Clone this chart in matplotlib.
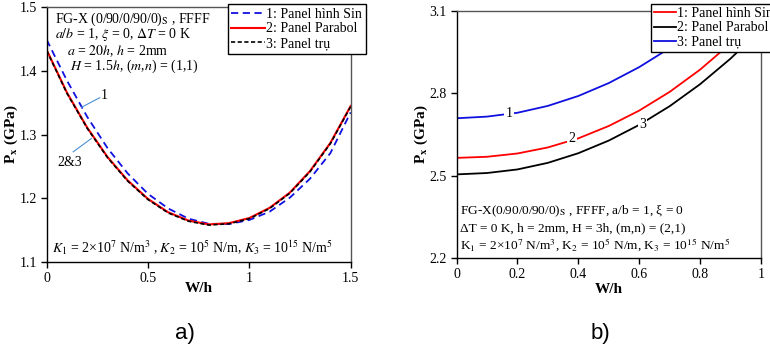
import matplotlib.pyplot as plt

plt.rcParams['font.family'] = ['Liberation Serif', 'DejaVu Serif']
plt.rcParams['mathtext.fontset'] = 'stix'
plt.rcParams['font.size'] = 10

# panel a) : P_x vs W/h
wh_a = [0, 0.1, 0.2, 0.3, 0.4, 0.5, 0.6, 0.7, 0.8, 0.9, 1.0, 1.1, 1.2, 1.3, 1.4, 1.5]
sin_a = [1.449, 1.385, 1.328, 1.279, 1.239, 1.207, 1.184, 1.168, 1.160, 1.1596,
         1.166, 1.179, 1.201, 1.231, 1.271, 1.335]
parabol_a = [1.433, 1.366, 1.311, 1.265, 1.228, 1.199, 1.178, 1.165, 1.159, 1.161,
             1.169, 1.185, 1.209, 1.243, 1.287, 1.345]
tru_a = [1.432, 1.365, 1.310, 1.264, 1.227, 1.198, 1.177, 1.164, 1.158, 1.160,
         1.168, 1.184, 1.208, 1.242, 1.286, 1.344]

# panel b)
wh_b = [0, 0.1, 0.2, 0.3, 0.4, 0.5, 0.6, 0.7, 0.8, 0.9, 1.0]
sin_b = [2.565, 2.569, 2.581, 2.603, 2.636, 2.681, 2.737, 2.805, 2.886, 2.981, 3.091]
parabol_b = [2.505, 2.510, 2.523, 2.547, 2.582, 2.628, 2.685, 2.753, 2.833, 2.926, 3.033]
tru_b = [2.709, 2.715, 2.729, 2.754, 2.790, 2.837, 2.895, 2.964, 3.044, 3.135]

labels = ['1: Panel hình Sin', '2: Panel Parabol', '3: Panel trụ']

fig = plt.figure(figsize=(7.7, 3.47), dpi=100)
ax1 = fig.add_axes([0.0606, 0.245, 0.3948, 0.734])
ax2 = fig.add_axes([0.5929, 0.2556, 0.3955, 0.7136])

# ---- a)
l1, = ax1.plot(wh_a, sin_a, color='#1010e0', lw=1.3, ls=(0, (4, 2.5)))
l2, = ax1.plot(wh_a, parabol_a, color='red', lw=1.5)
l3, = ax1.plot(wh_a, tru_a, color='black', lw=1.2, ls=(0, (2.5, 1.5)))
ax1.set_xlim(0, 1.5)
ax1.set_ylim(1.1, 1.5)
ax1.set_xticks([0, 0.5, 1, 1.5])
ax1.set_xticklabels(['0', '0.5', '1', '1.5'])
ax1.set_yticks([1.1, 1.2, 1.3, 1.4, 1.5])
ax1.set_xlabel('W/h', fontweight='bold', fontsize=11)
ax1.set_ylabel('P$_\\mathbf{x}$ (GPa)', fontweight='bold', fontsize=11)
ax1.xaxis.set_label_coords(0.5, -0.08)
ax1.yaxis.set_label_coords(-0.088, 0.5)

ax1.text(0.027, 0.953, 'FG-X (0/90/0/90/0)$_\\mathrm{S}$ , FFFF', transform=ax1.transAxes, va='center')
ax1.text(0.027, 0.892, '$a/b$ = 1, $\\xi$ = 0, $\\Delta T$ = 0 K', transform=ax1.transAxes, va='center')
ax1.text(0.066, 0.826, '$a$ = $20h$, $h$ = 2mm', transform=ax1.transAxes, va='center')
ax1.text(0.077, 0.767, '$H$ = 1.5$h$, ($m$,$n$) = (1,1)', transform=ax1.transAxes, va='center')
ax1.text(0.016, 0.054, '$K_1$ = 2×10$^7$ N/m$^3$ , $K_2$ = 10$^5$ N/m, $K_3$ = 10$^{15}$ N/m$^5$',
         transform=ax1.transAxes, va='center')

ax1.plot([0.172, 0.262], [1.343, 1.358], color='#4a90d0', lw=0.8)
ax1.text(0.285, 1.362, '1', va='center', ha='center')
ax1.plot([0.131, 0.221], [1.273, 1.294], color='#4a90d0', lw=0.8)
ax1.text(0.115, 1.256, '2&3', va='center', ha='center')

leg1 = ax1.legend([l1, l2, l3], labels, loc='upper left',
                  bbox_to_anchor=(228 / 770, 1 - 4.3 / 347), bbox_transform=fig.transFigure,
                  fancybox=False, edgecolor='black', framealpha=1, borderpad=0.25,
                  labelspacing=0.12, handlelength=2.4, handletextpad=0.1, borderaxespad=0)
leg1.get_frame().set_linewidth(1.0)

# ---- b)
m1, = ax2.plot(wh_b, sin_b, color='red', lw=1.3)
m2, = ax2.plot(wh_b, parabol_b, color='black', lw=1.3)
m3, = ax2.plot(wh_b[:len(tru_b)], tru_b, color='#1010e0', lw=1.3)
ax2.set_xlim(0, 1)
ax2.set_ylim(2.2, 3.1)
ax2.set_xticks([0, 0.2, 0.4, 0.6, 0.8, 1])
ax2.set_xticklabels(['0', '0.2', '0.4', '0.6', '0.8', '1'])
ax2.set_yticks([2.2, 2.5, 2.8, 3.1])
ax2.set_xlabel('W/h', fontweight='bold', fontsize=11)
ax2.set_ylabel('P$_\\mathbf{x}$ (GPa)', fontweight='bold', fontsize=11)
ax2.xaxis.set_label_coords(0.5, -0.1)
ax2.yaxis.set_label_coords(-0.087, 0.5)

for txt, x, y in [('1', 0.173, 2.727), ('2', 0.378, 2.636), ('3', 0.611, 2.688)]:
    ax2.text(x, y, txt, ha='center', va='center',
             bbox=dict(facecolor='white', edgecolor='none', pad=1.0))

ax2.text(0.011, 0.188, 'FG-X(0/90/0/90/0)$_\\mathrm{S}$ , FFFF, a/b = 1, ξ = 0',
         transform=ax2.transAxes, va='center', fontsize=9.6)
ax2.text(0.011, 0.121, 'ΔT = 0 K, h = 2mm, H = 3h, (m,n) = (2,1)',
         transform=ax2.transAxes, va='center', fontsize=9.6)
ax2.text(0.011, 0.054, 'K$_1$ = 2×10$^7$ N/m$^3$, K$_2$ = 10$^5$ N/m, K$_3$ = 10$^{15}$ N/m$^5$',
         transform=ax2.transAxes, va='center', fontsize=9.6)

leg2 = ax2.legend([m1, m2, m3], labels, loc='upper left',
                  bbox_to_anchor=(650.7 / 770, 1 - 4.3 / 347), bbox_transform=fig.transFigure,
                  fancybox=False, edgecolor='black', framealpha=1, borderpad=0.22,
                  labelspacing=0.08, handlelength=1.6, handletextpad=0.1, borderaxespad=0)
leg2.get_frame().set_linewidth(1.0)

for ax in (ax1, ax2):
    ax.tick_params(direction='out', length=4, width=1, labelsize=10, pad=3)
    for s in ax.spines.values():
        s.set_linewidth(1.0)
    ax.spines['right'].set_color('#555555')
    ax.spines['top'].set_color('#555555')

fig.text(185 / 770, 1 - 333 / 347, 'a)', ha='center', va='center', fontsize=16, family='Liberation Sans')
fig.text(600 / 770, 1 - 333 / 347, 'b)', ha='center', va='center', fontsize=16, family='Liberation Sans')

fig.savefig('out.png', dpi=100)
